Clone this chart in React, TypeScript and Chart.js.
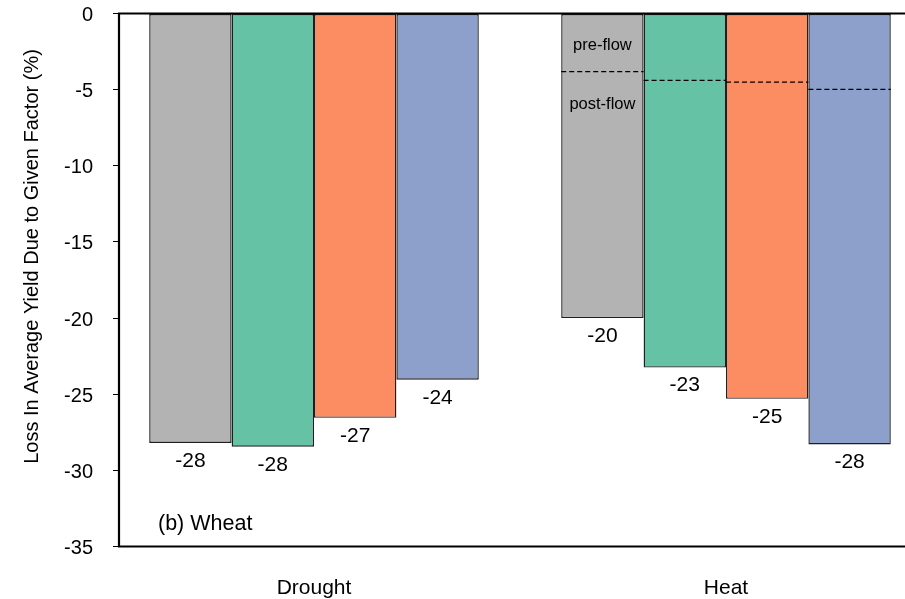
import { useEffect, useRef } from 'react';
import { Chart, registerables } from 'chart.js';

Chart.register(...registerables);

// Yield loss (%) by stress factor, four model variants per factor
const categories = ['Drought', 'Heat'];
const seriesNames = ['Variant 1', 'Variant 2', 'Variant 3', 'Variant 4'];
const variant1 = [-28.2, -20.0];
const variant2 = [-28.45, -23.25];
const variant3 = [-26.55, -25.3];
const variant4 = [-24.05, -28.3];
// split between pre-flowering and post-flowering heat losses, one per variant
const heatFlowSplit = [-3.82, -4.39, -4.5, -4.98];
const yMin = -35;
const yMax = 0;
const yStep = 5;
const yTitle = 'Loss In Average Yield Due to Given Factor (%)';
const panelLabel = '(b) Wheat';

const series = [variant1, variant2, variant3, variant4];
const colors = ['#b3b3b3', '#66c2a5', '#fc8d62', '#8da0cb'];
const FONT = '"Liberation Sans", Arial, Helvetica, sans-serif';

const overlay = {
  id: 'overlay',
  afterDatasetsDraw(chart: any) {
    const { ctx, chartArea, scales } = chart;
    const y = scales.y;
    ctx.save();

    // value labels under each bar
    ctx.fillStyle = '#000';
    ctx.font = `21px ${FONT}`;
    ctx.textAlign = 'center';
    ctx.textBaseline = 'middle';
    chart.data.datasets.forEach((ds: any, i: number) => {
      const meta = chart.getDatasetMeta(i);
      meta.data.forEach((el: any, j: number) => {
        const v = ds.data[j].y;
        ctx.fillText(String(Math.round(v)), el.x, el.y + 18);
      });
    });

    // dashed pre/post-flowering split in the Heat group
    ctx.strokeStyle = '#000';
    ctx.lineWidth = 1.3;
    ctx.setLineDash([5, 3]);
    heatFlowSplit.forEach((v, i) => {
      const el: any = chart.getDatasetMeta(i).data[1];
      const py = y.getPixelForValue(v);
      ctx.beginPath();
      ctx.moveTo(el.x - el.width / 2, py);
      ctx.lineTo(el.x + el.width / 2, py);
      ctx.stroke();
    });
    ctx.setLineDash([]);

    const heatFirst: any = chart.getDatasetMeta(0).data[1];
    const splitY = y.getPixelForValue(heatFlowSplit[0]);
    ctx.font = `16.5px ${FONT}`;
    ctx.fillText('pre-flow', heatFirst.x, splitY - 26);
    ctx.fillText('post-flow', heatFirst.x, splitY + 33);

    // panel label
    ctx.font = `21.5px ${FONT}`;
    ctx.textAlign = 'left';
    ctx.fillText(panelLabel, chartArea.left + 39, chartArea.bottom - 22);

    // frame: top, left, bottom
    ctx.lineWidth = 2.2;
    ctx.strokeStyle = '#000';
    ctx.beginPath();
    ctx.moveTo(chart.width, chartArea.top);
    ctx.lineTo(chartArea.left, chartArea.top);
    ctx.lineTo(chartArea.left, chartArea.bottom);
    ctx.lineTo(chart.width, chartArea.bottom);
    ctx.stroke();

    // y-axis title
    ctx.font = `20px ${FONT}`;
    ctx.textAlign = 'center';
    ctx.translate(32.5, 256.5);
    ctx.rotate(-Math.PI / 2);
    ctx.fillText(yTitle, 0, 0);

    ctx.restore();
  },
};

export default function App() {
  const ref = useRef<HTMLCanvasElement>(null);

  useEffect(() => {
    document.body.style.margin = '0';
    const canvas = ref.current;
    if (!canvas) return;
    const chart = new Chart(canvas, {
      type: 'bar',
      data: {
        datasets: series.map((s, i) => ({
          label: seriesNames[i],
          data: categories.map((_, j) => ({ x: j, y: s[j] })),
          backgroundColor: colors[i],
          borderColor: '#1f1f1f',
          borderWidth: 1.4,
          borderSkipped: false,
          categoryPercentage: 0.8,
          barPercentage: 1,
        })),
      } as any,
      options: {
        responsive: false,
        animation: false,
        layout: { padding: { top: 13.5, right: 0, bottom: 0, left: 0 } },
        plugins: {
          legend: { display: false },
          tooltip: { enabled: false },
        },
        scales: {
          x: {
            type: 'linear',
            min: -0.4733,
            max: 1.4345,
            offset: false,
            afterBuildTicks: (s: any) => {
              s.ticks = categories.map((_, i) => ({ value: i }));
            },
            afterFit: (s: any) => {
              s.height = 52.5;
              s.paddingLeft = 0;
              s.paddingRight = 0;
            },
            grid: { display: false, drawTicks: false, offset: false },
            border: { display: false },
            ticks: {
              autoSkip: false,
              maxRotation: 0,
              padding: 29,
              color: '#000',
              font: { family: FONT, size: 21 },
              callback: (v: any) => categories[v] ?? '',
            },
          },
          y: {
            min: yMin,
            max: yMax,
            afterFit: (s: any) => {
              s.width = 119;
              s.paddingTop = 0;
              s.paddingBottom = 0;
            },
            grid: {
              drawOnChartArea: false,
              drawTicks: true,
              tickLength: 6,
              color: '#000',
              lineWidth: 1,
            },
            border: { display: false },
            ticks: {
              stepSize: yStep,
              padding: 20,
              labelOffset: 2,
              color: '#000',
              font: { family: FONT, size: 20 },
            },
          },
        },
      } as any,
      plugins: [overlay],
    });
    return () => chart.destroy();
  }, []);

  return <canvas ref={ref} width={905} height={599} style={{ display: 'block' }} />;
}
